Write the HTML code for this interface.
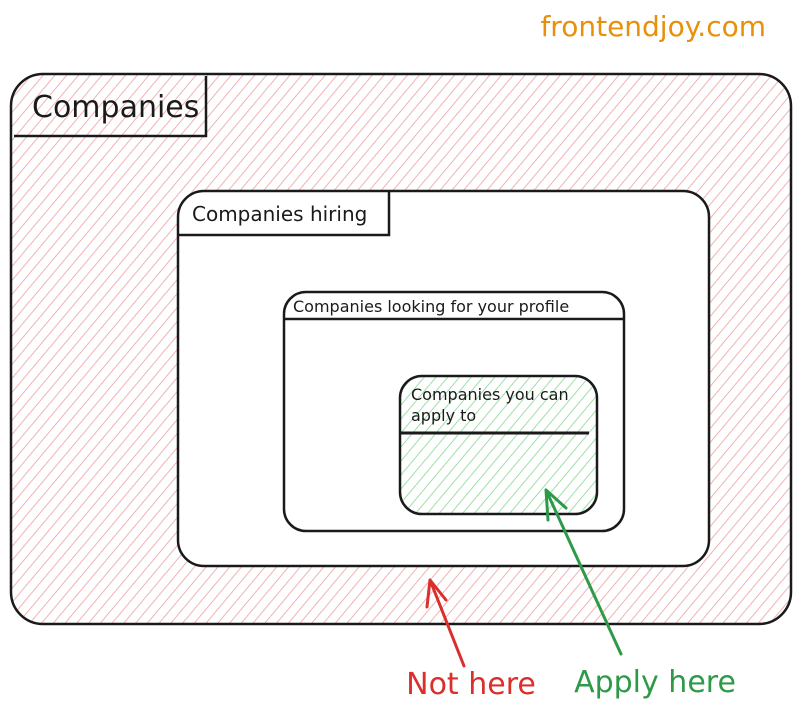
<!DOCTYPE html>
<html><head><meta charset="utf-8"><style>
html,body{margin:0;padding:0;background:#fff;width:800px;height:716px;overflow:hidden}
svg{display:block}
text{font-family:"DejaVu Sans","Liberation Sans",sans-serif}
</style></head><body>
<svg width="800" height="716" viewBox="0 0 800 716" xmlns="http://www.w3.org/2000/svg">
<defs>
<pattern id="red" width="9" height="9" patternUnits="userSpaceOnUse" patternTransform="rotate(40)">
<line x1="0" y1="0" x2="0" y2="9" stroke="#eea0a0" stroke-width="1.6"/>
</pattern>
<pattern id="green" width="9" height="9" patternUnits="userSpaceOnUse" patternTransform="rotate(40)">
<line x1="0" y1="0" x2="0" y2="9" stroke="#86d894" stroke-width="1.6"/>
</pattern>
</defs>
<text x="766" y="36" font-size="28" fill="#e8900c" text-anchor="end">frontendjoy.com</text>
<rect x="11" y="74" width="780" height="550" rx="32" fill="url(#red)" stroke="#1a1a1a" stroke-width="2.5"/>
<path d="M14 136 H206 V76" fill="none" stroke="#1a1a1a" stroke-width="2.5"/>
<text x="32" y="117" font-size="30" fill="#1a1a1a">Companies</text>
<rect x="178" y="191" width="531" height="375" rx="26" fill="#fff" stroke="#1a1a1a" stroke-width="2.5"/>
<path d="M179 235 H389 V192" fill="none" stroke="#1a1a1a" stroke-width="2.5"/>
<text x="192" y="221" font-size="20" fill="#1a1a1a">Companies hiring</text>
<rect x="284" y="292" width="340" height="239" rx="22" fill="#fff" stroke="#1a1a1a" stroke-width="2.5"/>
<line x1="285" y1="319" x2="623" y2="319" stroke="#1a1a1a" stroke-width="2.5"/>
<text x="293" y="312" font-size="16" fill="#1a1a1a">Companies looking for your profile</text>
<rect x="400" y="376" width="197" height="138" rx="22" fill="url(#green)" stroke="#1a1a1a" stroke-width="2.5"/>
<line x1="401" y1="433" x2="589" y2="433" stroke="#1a1a1a" stroke-width="3"/>
<text x="411" y="400" font-size="16" fill="#1a1a1a">Companies you can</text>
<text x="411" y="421" font-size="16" fill="#1a1a1a">apply to</text>
<path d="M464 666 L430 580 M430 580 L427 607 M430 580 L446 600" fill="none" stroke="#d9302c" stroke-width="3" stroke-linecap="round"/>
<path d="M621 654 L546 490 M546 490 L548 520 M546 490 L566 508" fill="none" stroke="#2e9a48" stroke-width="3" stroke-linecap="round"/>
<text x="471" y="694" font-size="30" fill="#d9302c" text-anchor="middle">Not here</text>
<text x="655" y="692" font-size="30" fill="#2e9a48" text-anchor="middle">Apply here</text>
</svg>
</body></html>
